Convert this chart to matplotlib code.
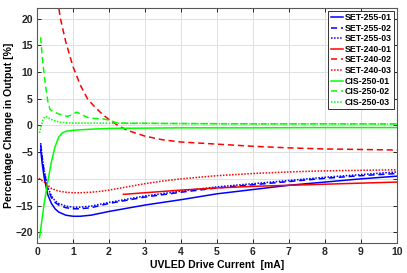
import matplotlib
matplotlib.use("Agg")
import matplotlib.pyplot as plt

plt.rcParams['font.family'] = ['Liberation Sans', 'DejaVu Sans']
plt.rcParams['font.weight'] = 'bold'

# SET-255 series
x_255 = [0.1, 0.15, 0.2, 0.3, 0.4, 0.5, 0.6, 0.8, 1.0, 1.2, 1.5, 2.0, 2.5, 3.0,
         4.0, 5.0, 6.0, 7.0, 8.0, 9.0, 10.0]
set255_01 = [-4.5, -7.5, -9.8, -13.0, -14.6, -15.6, -16.2, -16.8, -17.0, -17.0, -16.8,
             -16.1, -15.5, -14.9, -13.9, -12.8, -12.0, -11.2, -10.6, -10.0, -9.5]
set255_02 = [-3.6, -6.5, -8.8, -11.9, -13.5, -14.4, -14.9, -15.4, -15.6, -15.6, -15.4,
             -14.6, -14.0, -13.4, -12.5, -11.7, -11.1, -10.5, -9.9, -9.4, -9.0]
set255_03 = [-3.3, -6.2, -8.5, -11.6, -13.2, -14.1, -14.6, -15.1, -15.3, -15.3, -15.1,
             -14.4, -13.8, -13.2, -12.3, -11.5, -10.9, -10.3, -9.7, -9.2, -8.7]

# SET-240 series
x_240_01 = [2.4, 3.0, 4.0, 5.0, 6.0, 7.0, 8.0, 9.0, 10.0]
set240_01 = [-12.9, -12.6, -12.1, -11.7, -11.4, -11.2, -11.0, -10.8, -10.6]
x_240_02 = [0.55, 0.65, 0.8, 1.0, 1.2, 1.4, 1.6, 1.8, 2.0, 2.25, 2.5, 3.0, 3.5, 4.0,
            5.0, 6.0, 7.0, 8.0, 9.0, 10.0]
set240_02 = [24.5, 20.0, 15.6, 11.0, 7.6, 5.0, 3.5, 2.2, 1.1, 0.0, -0.9, -2.0, -2.7,
             -3.1, -3.5, -3.9, -4.2, -4.4, -4.5, -4.6]
x_240_03 = [0.05, 0.2, 0.4, 0.6, 0.8, 1.0, 1.2, 1.5, 1.8, 2.0, 2.5, 3.0, 3.5, 4.0,
            5.0, 6.0, 7.0, 8.0, 9.0, 10.0]
set240_03 = [-9.9, -10.6, -11.8, -12.3, -12.5, -12.6, -12.6, -12.5, -12.3, -12.1,
             -11.5, -10.9, -10.4, -10.0, -9.4, -9.0, -8.7, -8.5, -8.4, -8.3]

# CIS-250 series
x_cis_01 = [0.07, 0.12, 0.2, 0.3, 0.4, 0.5, 0.6, 0.7, 0.8, 1.0, 1.5, 2.0, 3.0, 4.0,
            6.0, 8.0, 10.0]
cis250_01 = [-21.0, -18.5, -14.5, -10.5, -6.8, -4.0, -2.2, -1.4, -1.1, -0.9, -0.7,
             -0.55, -0.5, -0.45, -0.45, -0.4, -0.4]
x_cis_02 = [0.1, 0.15, 0.2, 0.25, 0.3, 0.36, 0.45, 0.55, 0.7, 0.85, 1.0, 1.1, 1.25,
            1.4, 1.6, 1.85, 2.0, 2.2, 2.5, 3.0, 4.0, 6.0, 8.0, 10.0]
cis250_02 = [16.5, 12.5, 9.5, 6.8, 4.5, 3.0, 2.6, 2.3, 1.9, 1.7, 2.1, 2.5, 2.0, 1.5,
             1.3, 1.2, 1.0, 0.5, 0.4, 0.4, 0.35, 0.3, 0.3, 0.3]
x_cis_03 = [0.07, 0.12, 0.17, 0.22, 0.3, 0.4, 0.5, 0.65, 0.8, 1.0, 1.5, 2.0, 3.0,
            4.0, 6.0, 8.0, 10.0]
cis250_03 = [-1.4, 0.0, 1.2, 1.7, 1.5, 1.1, 0.85, 0.6, 0.5, 0.45, 0.45, 0.4, 0.4,
             0.35, 0.3, 0.3, 0.25]

blue = (0, 0, 1)
red = (1, 0, 0)
green = (0, 1, 0)
dashed = (0, (4, 2.5))
dotted = (0, (1, 1))

fig = plt.figure(figsize=(4.07, 2.73), dpi=100)
ax = fig.add_axes([0.091, 0.11, 0.884, 0.861])

ax.plot(x_255, set255_01, color=blue, lw=1.1, ls='-', label='SET-255-01')
ax.plot(x_255, set255_02, color=blue, lw=1.1, ls=dashed, label='SET-255-02')
ax.plot(x_255, set255_03, color=blue, lw=1.1, ls=dotted, label='SET-255-03')
ax.plot(x_240_01, set240_01, color=red, lw=1.1, ls='-', label='SET-240-01')
ax.plot(x_240_02, set240_02, color=red, lw=1.1, ls=dashed, label='SET-240-02')
ax.plot(x_240_03, set240_03, color=red, lw=1.1, ls=dotted, label='SET-240-03')
ax.plot(x_cis_01, cis250_01, color=green, lw=1.1, ls='-', label='CIS-250-01')
ax.plot(x_cis_02, cis250_02, color=green, lw=1.1, ls=dashed, label='CIS-250-02')
ax.plot(x_cis_03, cis250_03, color=green, lw=1.1, ls=dotted, label='CIS-250-03')

ax.set_xlim(0, 10)
ax.set_ylim(-22, 22)
ax.set_xticks(range(0, 11))
ax.set_yticks([-20, -15, -10, -5, 0, 5, 10, 15, 20])
ax.grid(True, color=(0.88, 0.88, 0.88), lw=0.7)
ax.set_axisbelow(True)
ax.tick_params(direction='in', top=True, right=True, length=3, width=0.7,
               labelsize=7.5, colors=(0.15, 0.15, 0.15), pad=3)
for lab in ax.get_xticklabels() + ax.get_yticklabels():
    lab.set_fontweight('bold')
for sp in ax.spines.values():
    sp.set_color((0.35, 0.35, 0.35))
    sp.set_linewidth(0.8)

ax.set_xlabel('UVLED Drive Current  [mA]', fontsize=7.5, fontweight='bold', labelpad=2)
ax.set_ylabel('Percentage Change in Output [%]', fontsize=7.5, fontweight='bold', labelpad=1)

leg = ax.legend(loc='upper right', fontsize=6.3, handlelength=1.4, handletextpad=0.15,
                labelspacing=0.18, borderpad=0.3, borderaxespad=0.3, fancybox=False,
                framealpha=1, edgecolor=(0.2, 0.2, 0.2))
leg.get_frame().set_linewidth(0.7)
for t in leg.get_texts():
    t.set_fontweight('bold')

fig.savefig('out.png', dpi=100)
